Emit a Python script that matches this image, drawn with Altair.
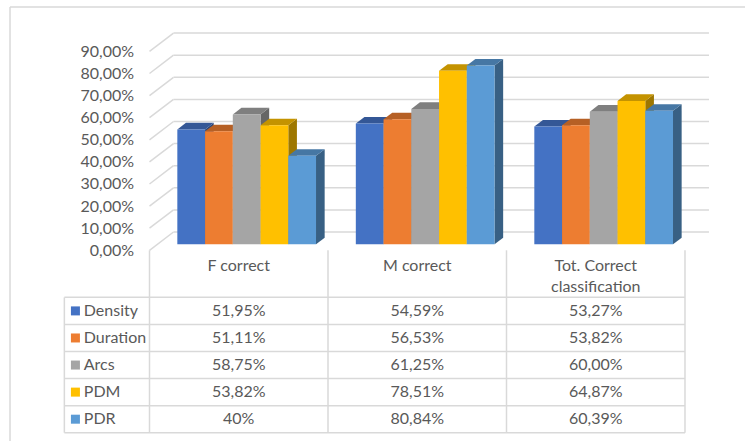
import altair as alt
import pandas as pd

# ---- data ---------------------------------------------------------------
SERIES = ["Density", "Duration", "Arcs", "PDM", "PDR"]
CATEGORIES = ["F correct", "M correct", "Tot. Correct\nclassification"]
CELLS = {
    "Density": ["51,95%", "54,59%", "53,27%"],
    "Duration": ["51,11%", "56,53%", "53,82%"],
    "Arcs": ["58,75%", "61,25%", "60,00%"],
    "PDM": ["53,82%", "78,51%", "64,87%"],
    "PDR": ["40%", "80,84%", "60,39%"],
}
COLORS = ["#4472C4", "#ED7D31", "#A5A5A5", "#FFC000", "#5B9BD5"]
Y_TICKS = list(range(0, 100, 10))

# ---- layout (x in category columns, y in percent) -----------------------
COL_PX = 178.5          # pixels per category column
PCT_PX = 2.21           # pixels per percentage point
X_DOMAIN = [0, 3.3]
Y_DOMAIN = [-85, 110]
DX = 24 / COL_PX        # oblique depth offset, horizontal
DY = 18.3 / PCT_PX      # oblique depth offset, vertical
D_FRONT, D_BACK = 0.33, 0.69
GROUP_PAD = 0.1115
BAR_W = (1 - 2 * GROUP_PAD) / len(SERIES)
HEADER_H = 21.3
ROW_H = 12.25
LINE_H = 9.37
LEG_LEFT = -0.477
SWATCH_X = -0.415
LABEL_X = -0.368
FRAME_X = (-0.7815, 3.34)
FRAME_Y = (-86.5, 110.1)
N_COLS = len(CATEGORIES)

GRID = "#d9d9d9"
TEXT = "#595959"
FONT = "Lato"
FONT_SIZE = 16

# one shared percentage axis, identical in every layer so the layers merge it
Y_AXIS = alt.Axis(
    orient="left",
    values=Y_TICKS,
    labelExpr="replace(format(datum.value, '.2f'), '.', ',') + '%'",
    domain=False, ticks=False, grid=False, labelPadding=16,
    labelAlign="right", labelBaseline="middle",
    labelFont=FONT, labelFontSize=FONT_SIZE, labelColor=TEXT, title=None,
)


def shade(hex_color, f):
    h = hex_color.lstrip("#")
    r, g, b = (int(h[i:i + 2], 16) for i in (0, 2, 4))
    return "#{:02x}{:02x}{:02x}".format(int(r * f), int(g * f), int(b * f))


def pct(text):
    return float(text.rstrip("%").replace(",", "."))


def X(field):
    return alt.X(field, type="quantitative", scale=alt.Scale(domain=X_DOMAIN), axis=None)


def Y(field):
    return alt.Y(field, type="quantitative", scale=alt.Scale(domain=Y_DOMAIN), axis=Y_AXIS)


def colour(range_):
    return alt.Color("series:N", scale=alt.Scale(domain=SERIES, range=range_), legend=None)


# ---- 3D bar geometry ----------------------------------------------------
fronts, sides, tops = [], [], []
for ci, _ in enumerate(CATEGORIES):
    for si, s in enumerate(SERIES):
        v = pct(CELLS[s][ci])
        xl = ci + GROUP_PAD + si * BAR_W
        xr = xl + BAR_W
        bid = f"{ci}-{si}"
        fronts.append(dict(series=s, x=xl + D_FRONT * DX, x2=xr + D_FRONT * DX,
                           y=D_FRONT * DY, y2=v + D_FRONT * DY))
        for d in (D_FRONT, D_BACK):
            sides.append(dict(id=bid, series=s, x=xr + d * DX, lo=d * DY, hi=v + d * DY))
            tops.append(dict(id=bid, series=s, y=v + d * DY, x=xl + d * DX, x2=xr + d * DX))

front_df = pd.DataFrame(fronts)
side_df = pd.DataFrame(sides)
top_df = pd.DataFrame(tops)

grid_df = pd.DataFrame({"v": Y_TICKS})
grid_df["x"] = DX
grid_df["x2"] = N_COLS + DX
grid_df["yb"] = grid_df["v"] + DY
grid_df["x0"] = 0.0

# side-wall diagonals and back-wall gridlines
wall_grid = alt.Chart(grid_df).mark_rule(color=GRID, strokeWidth=1.5).encode(
    x=X("x0"), x2="x", y=Y("v"), y2="yb",
)
back_grid = alt.Chart(grid_df).mark_rule(color=GRID, strokeWidth=1.5).encode(
    x=X("x"), x2="x2", y=Y("yb"),
)

side_layer = alt.Chart(side_df).mark_area(orient="vertical").encode(
    x=X("x"), y=Y("lo"), y2="hi", detail="id:N",
    color=colour([shade(c, 0.62) for c in COLORS]),
)
top_layer = alt.Chart(top_df).mark_area(orient="horizontal").encode(
    y=Y("y"), x=X("x"), x2="x2", detail="id:N",
    color=colour([shade(c, 0.77) for c in COLORS]),
)
front_layer = alt.Chart(front_df).mark_rect().encode(
    x=X("x"), x2="x2", y=Y("y"), y2="y2",
    color=colour(COLORS),
)

# ---- data table ---------------------------------------------------------
n_rows = len(SERIES)
table_bottom = -HEADER_H - n_rows * ROW_H
segments = []
for k in range(n_rows + 1):
    yk = -HEADER_H - k * ROW_H
    segments.append(dict(x=LEG_LEFT, x2=N_COLS, y=yk, y2=yk))
segments.append(dict(x=LEG_LEFT, x2=LEG_LEFT, y=-HEADER_H, y2=table_bottom))
for c in range(N_COLS + 1):
    segments.append(dict(x=c, x2=c, y=0, y2=table_bottom))
# outer frame of the chart area
segments.append(dict(x=FRAME_X[0], x2=FRAME_X[0], y=FRAME_Y[0], y2=FRAME_Y[1]))
segments.append(dict(x=FRAME_X[0], x2=FRAME_X[1], y=FRAME_Y[1], y2=FRAME_Y[1]))
seg_df = pd.DataFrame(segments)

table_lines = alt.Chart(seg_df).mark_rule(color=GRID, strokeWidth=1.5).encode(
    x=X("x"), x2="x2", y=Y("y"), y2="y2",
)

header_rows = []
for ci, cat in enumerate(CATEGORIES):
    for li, line in enumerate(cat.split("\n")):
        header_rows.append(dict(x=ci + 0.5, y=-7.1 - li * LINE_H, text=line))

cell_rows, legend_rows = [], []
for si, s in enumerate(SERIES):
    yc = -HEADER_H - (si + 0.5) * ROW_H
    legend_rows.append(dict(series=s, xs=SWATCH_X, xl=LABEL_X, y=yc))
    for ci, _ in enumerate(CATEGORIES):
        cell_rows.append(dict(x=ci + 0.5, y=yc, text=CELLS[s][ci]))
cell_df = pd.DataFrame(header_rows + cell_rows)
legend_df = pd.DataFrame(legend_rows)

cell_text = alt.Chart(cell_df).mark_text(
    font=FONT, fontSize=FONT_SIZE, color=TEXT, align="center", baseline="middle"
).encode(x=X("x"), y=Y("y"), text="text:N")

swatches = alt.Chart(legend_df).mark_square(size=81, opacity=1, filled=True).encode(
    x=X("xs"), y=Y("y"), color=colour(COLORS),
)
legend_text = alt.Chart(legend_df).mark_text(
    font=FONT, fontSize=FONT_SIZE, color=TEXT, align="left", baseline="middle"
).encode(x=X("xl"), y=Y("y"), text="series:N")

chart = alt.layer(
    wall_grid, back_grid,
    side_layer, top_layer, front_layer,
    table_lines, cell_text, swatches, legend_text,
).resolve_scale(
    color="independent"
).properties(
    width=(X_DOMAIN[1] - X_DOMAIN[0]) * COL_PX,
    height=(Y_DOMAIN[1] - Y_DOMAIN[0]) * PCT_PX,
    padding={"left": 149.5, "top": 7.2, "right": 6, "bottom": 3},
    autosize=alt.AutoSizeParams(type="none"),
    background="white",
).configure(font=FONT, view=alt.ViewConfig(stroke=None))

chart.save("out.html", embed_options={"renderer": "svg", "actions": False})
